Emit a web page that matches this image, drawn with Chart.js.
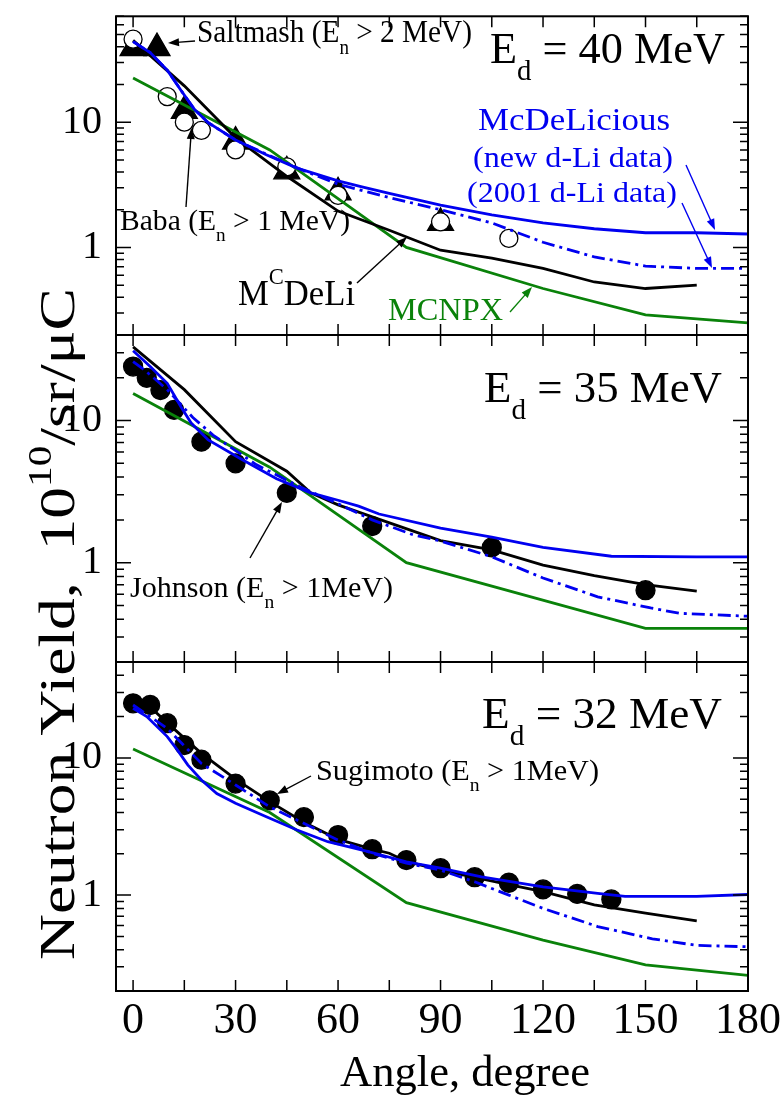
<!DOCTYPE html>
<html lang="en">
<head>
<meta charset="UTF-8">
<title>Neutron yield vs angle</title>
<style>
  body { margin: 0; background: #fff; }
  #wrap { position: relative; width: 784px; height: 1102px; }
  #wrap canvas { position: absolute; left: 0; top: 0; }
</style>
<script src="https://cdn.jsdelivr.net/npm/chart.js"></script>
</head>
<body>
<div id="wrap">
  <canvas id="p40" width="784" height="1102"></canvas>
  <canvas id="p35" width="784" height="1102"></canvas>
  <canvas id="p32" width="784" height="1102"></canvas>
</div>
<script>
// axis ticks
const angleTicks = [0, 30, 60, 90, 120, 150, 180];
const yieldTicks = [1, 10];

// Ed = 40 MeV
const deli40Angle = [0, 15, 30, 45, 60, 75, 90, 105, 120, 135, 150, 165];
const deli40Yield = [45, 19.5, 7.5, 3.7, 1.95, 1.37, 0.95, 0.82, 0.68, 0.53, 0.47, 0.5];
const newLi40Angle = [0, 5, 10, 14, 18, 22, 30, 39, 48, 60, 67, 75, 90, 105, 120, 135, 150, 165, 180];
const newLi40Yield = [44, 36, 26, 18, 12.6, 9.9, 7.2, 5.5, 4.3, 3.4, 3.05, 2.7, 2.18, 1.82, 1.57, 1.41, 1.31, 1.31, 1.28];
const oldLi40Angle = [0, 5, 10, 14, 18, 22, 30, 40, 50, 60, 75, 90, 105, 120, 135, 150, 165, 180];
const oldLi40Yield = [44, 36, 26, 18, 12.6, 9.9, 7.2, 5.4, 4.1, 3.2, 2.5, 2.0, 1.57, 1.1, 0.84, 0.71, 0.68, 0.68];
const mcnpx40Angle = [0, 40, 80, 120, 150, 180];
const mcnpx40Yield = [22.5, 6.0, 1.0, 0.47, 0.29, 0.25];
const saltmashAngle = [0, 7, 15, 30, 45, 60, 90];
const saltmashYield = [39, 39, 12.3, 7.0, 4.05, 2.75, 1.57];
const babaAngle = [0, 10, 15, 20, 30, 45, 60, 90, 110];
const babaYield = [46, 16, 10, 8.6, 6.0, 4.4, 2.6, 1.6, 1.18];

// Ed = 35 MeV
const deli35Angle = [0, 15, 30, 45, 52, 60, 70, 90, 105, 120, 135, 150, 165];
const deli35Yield = [33, 16.5, 7.1, 4.4, 3.1, 2.55, 2.1, 1.43, 1.23, 0.96, 0.81, 0.7, 0.63];
const newLi35Angle = [0, 5, 10, 14, 17, 22, 32, 42, 52, 60, 66, 72, 90, 105, 120, 140, 165, 180];
const newLi35Yield = [31, 24, 18.3, 12.5, 9.6, 7.3, 5.3, 3.9, 3.1, 2.75, 2.5, 2.2, 1.75, 1.51, 1.28, 1.11, 1.1, 1.1];
const oldLi35Angle = [0, 3, 6, 10, 17.5, 23.4, 36, 49, 60, 70, 82, 90, 105, 120, 136, 151.5, 160, 180];
const oldLi35Yield = [26, 23, 20, 16.5, 10.5, 7.9, 4.9, 3.4, 2.6, 2.0, 1.57, 1.42, 1.1, 0.78, 0.575, 0.48, 0.44, 0.42];
const mcnpx35Angle = [0, 40, 80, 150, 180];
const mcnpx35Yield = [15.5, 4.7, 1.0, 0.345, 0.345];
const johnsonAngle = [0, 4, 8, 12, 20, 30, 45, 70, 105, 150];
const johnsonYield = [24, 20, 16.4, 11.9, 7.1, 5.0, 3.1, 1.81, 1.28, 0.64];

// Ed = 32 MeV
const deli32Angle = [0, 5, 10, 20, 30, 40, 50, 60, 70, 75, 80, 90, 110, 120, 135, 150, 165];
const deli32Yield = [25.7, 23.5, 18, 10.8, 7.0, 4.8, 3.4, 2.55, 2.16, 2.02, 1.76, 1.52, 1.19, 1.06, 0.85, 0.74, 0.65];
const newLi32Angle = [0, 4, 10, 13, 16, 20, 24.5, 30, 39, 48, 57, 68, 80, 90, 102, 120, 136, 144, 165, 180];
const newLi32Yield = [23, 20, 14.3, 11.4, 8.9, 6.9, 5.5, 4.67, 3.73, 2.98, 2.45, 2.1, 1.75, 1.57, 1.36, 1.15, 1.03, 0.98, 0.98, 1.01];
const oldLi32Angle = [0, 10, 20, 30, 40, 52, 60, 70, 80, 90, 100, 110, 120, 136, 152, 165, 180];
const oldLi32Yield = [24.3, 16.4, 9.1, 6.35, 4.4, 3.15, 2.52, 2.02, 1.71, 1.52, 1.25, 1.0, 0.8, 0.59, 0.48, 0.43, 0.42];
const mcnpx32Angle = [0, 40, 80, 120, 150, 180];
const mcnpx32Yield = [11.6, 4.0, 0.88, 0.47, 0.31, 0.26];
const sugimotoAngle = [0, 5, 10, 15, 20, 30, 40, 50, 60, 70, 80, 90, 100, 110, 120, 130, 140];
const sugimotoYield = [25, 24.3, 17.9, 12.4, 9.7, 6.5, 4.9, 3.7, 2.74, 2.16, 1.8, 1.57, 1.35, 1.23, 1.1, 1.02, 0.93];

const SERIF = "'Liberation Serif', 'Times New Roman', serif";
const BLUE = '#0000f0';
const GREEN = '#0a820a';
const DASHDOT = [13, 5, 3, 5];

function pts(xs, ys) {
  return xs.map((x, i) => ({ x: x, y: ys[i] }));
}

function curve(xs, ys, color, dash) {
  return {
    data: pts(xs, ys), showLine: true, borderColor: color, borderWidth: 2.8,
    borderDash: dash || [], pointRadius: 0, pointHoverRadius: 0, tension: 0, fill: false
  };
}

function marks(xs, ys, style, r, fill) {
  return {
    data: pts(xs, ys), showLine: false, pointStyle: style, pointRadius: r, pointHoverRadius: r,
    pointBackgroundColor: fill, pointBorderColor: '#000', pointBorderWidth: 1.3
  };
}

// text with sub/superscripts; optional width squeezes/stretches along the text
function rich(ctx, parts, x, y, size, opts) {
  opts = opts || {};
  ctx.save();
  ctx.fillStyle = opts.color || '#000';
  ctx.textBaseline = 'alphabetic';
  ctx.textAlign = 'left';
  const pieces = parts.map(p => {
    const kind = p[1] || '';
    const s = kind ? size * 0.65 : size;
    ctx.font = s + 'px ' + SERIF;
    const dy = kind === 'sub' ? size * 0.38 : kind === 'sup' ? -size * (opts.supRaise || 0.6) : 0;
    return { t: p[0], s: s, w: ctx.measureText(p[0]).width, dy: dy };
  });
  const total = pieces.reduce((a, p) => a + p.w, 0);
  const sx = opts.width ? opts.width / total : 1;
  ctx.translate(x, y);
  if (opts.rotate) ctx.rotate(opts.rotate);
  ctx.scale(sx, opts.sy || 1);
  let cx = opts.align === 'center' ? -total / 2 : 0;
  pieces.forEach(p => {
    ctx.font = p.s + 'px ' + SERIF;
    ctx.fillText(p.t, cx, p.dy);
    cx += p.w;
  });
  ctx.restore();
}

function arrow(ctx, x1, y1, x2, y2, color) {
  const ang = Math.atan2(y2 - y1, x2 - x1);
  const h = 11, w = 4;
  ctx.save();
  ctx.strokeStyle = color;
  ctx.fillStyle = color;
  ctx.lineWidth = 1.4;
  ctx.beginPath();
  ctx.moveTo(x1, y1);
  ctx.lineTo(x2 - h * 0.8 * Math.cos(ang), y2 - h * 0.8 * Math.sin(ang));
  ctx.stroke();
  ctx.translate(x2, y2);
  ctx.rotate(ang);
  ctx.beginPath();
  ctx.moveTo(0, 0);
  ctx.lineTo(-h, -w);
  ctx.lineTo(-h, w);
  ctx.closePath();
  ctx.fill();
  ctx.restore();
}

// frame, inward ticks and the panel's notes
function framePlugin(notes) {
  return {
    id: 'frame',
    afterDraw(chart) {
      const ctx = chart.ctx, a = chart.chartArea;
      const xs = chart.scales.x, ys = chart.scales.y;
      ctx.save();
      ctx.strokeStyle = '#000';
      ctx.lineWidth = 1.5;
      ctx.beginPath();
      for (let v = 0; v <= 180; v += 15) {
        const px = xs.getPixelForValue(v);
        ctx.moveTo(px, a.bottom); ctx.lineTo(px, a.bottom - 11);
        ctx.moveTo(px, a.top); ctx.lineTo(px, a.top + 11);
      }
      [0.1, 1, 10].forEach(d => {
        for (let k = 1; k <= 9; k++) {
          const v = d * k;
          if (v < ys.min * 0.999 || v > ys.max * 1.001) continue;
          const py = ys.getPixelForValue(v);
          const len = k === 1 ? 15 : 8;
          ctx.moveTo(a.left, py); ctx.lineTo(a.left + len, py);
          ctx.moveTo(a.right, py); ctx.lineTo(a.right - len, py);
        }
      });
      ctx.stroke();
      ctx.lineWidth = 2;
      ctx.strokeRect(a.left, a.top, a.right - a.left, a.bottom - a.top);
      ctx.restore();
      if (notes) notes(ctx);
    }
  };
}

function panel(id, yMin, yMax, padTop, padBottom, withX, datasets, notes) {
  return new Chart(document.getElementById(id), {
    type: 'scatter',
    data: { datasets: datasets },
    options: {
      responsive: false,
      animation: false,
      devicePixelRatio: 1,
      layout: { padding: { left: 0, right: 36, top: padTop, bottom: padBottom } },
      plugins: { legend: { display: false }, tooltip: { enabled: false } },
      scales: {
        x: {
          type: 'linear', min: -5, max: 180, display: withX,
          grid: { display: false, drawTicks: false }, border: { display: false },
          afterBuildTicks: s => { s.ticks = angleTicks.map(v => ({ value: v })); },
          afterFit: s => { if (withX) s.height = 111; s.paddingLeft = 0; s.paddingRight = 0; },
          ticks: { font: { family: SERIF, size: 44 }, color: '#000', padding: 4, maxRotation: 0, autoSkip: false }
        },
        y: {
          type: 'logarithmic', min: yMin, max: yMax,
          grid: { display: false, drawTicks: false }, border: { display: false },
          afterBuildTicks: s => { s.ticks = yieldTicks.map(v => ({ value: v })); },
          afterFit: s => { s.width = 116; s.paddingTop = 0; s.paddingBottom = 0; },
          ticks: { font: { family: SERIF, size: 40 }, color: '#000', padding: 14, autoSkip: false, callback: v => String(v) }
        }
      }
    },
    plugins: [framePlugin(notes)]
  });
}

panel('p40', 0.2, 70, 8, 767, false, [
  curve(newLi40Angle, newLi40Yield, BLUE),
  curve(oldLi40Angle, oldLi40Yield, BLUE, DASHDOT),
  curve(deli40Angle, deli40Yield, '#000'),
  curve(mcnpx40Angle, mcnpx40Yield, GREEN),
  marks(babaAngle, babaYield, 'circle', 9, '#fff'),
  marks(saltmashAngle, saltmashYield, 'triangle', 15, '#000')
], ctx => {
  rich(ctx, [['Saltmash (E'], ['n', 'sub'], [' > 2 MeV)']], 197, 42, 31, { width: 275 });
  arrow(ctx, 195, 41, 168, 43, '#000');
  rich(ctx, [['E'], ['d', 'sub'], [' = 40 MeV']], 490, 63, 44, { width: 235 });
  rich(ctx, [['McDeLicious']], 574, 130, 31, { align: 'center', width: 192, color: BLUE });
  rich(ctx, [['(new d-Li data)']], 573, 167, 30, { align: 'center', width: 200, color: BLUE });
  rich(ctx, [['(2001 d-Li data)']], 572, 202, 30, { align: 'center', width: 210, color: BLUE });
  arrow(ctx, 686, 165, 715, 230, BLUE);
  arrow(ctx, 682, 203, 712, 268, BLUE);
  rich(ctx, [['Baba (E'], ['n', 'sub'], [' > 1 MeV)']], 120, 230, 29, { width: 230 });
  arrow(ctx, 186, 207, 191.5, 128, '#000');
  rich(ctx, [['M'], ['C', 'sup'], ['DeLi']], 238, 305, 35, { width: 117 });
  arrow(ctx, 357, 283, 407, 237, '#000');
  rich(ctx, [['MCNPX']], 388, 320, 31, { width: 115, color: GREEN });
  arrow(ctx, 510, 312, 532, 287, GREEN);
});

panel('p35', 0.2, 40, 335, 440, false, [
  curve(newLi35Angle, newLi35Yield, BLUE),
  curve(oldLi35Angle, oldLi35Yield, BLUE, DASHDOT),
  curve(deli35Angle, deli35Yield, '#000'),
  curve(mcnpx35Angle, mcnpx35Yield, GREEN),
  marks(johnsonAngle, johnsonYield, 'circle', 9.5, '#000')
], ctx => {
  rich(ctx, [['E'], ['d', 'sub'], [' = 35 MeV']], 484, 402, 44, { width: 238 });
  rich(ctx, [['Johnson (E'], ['n', 'sub'], [' > 1MeV)']], 130, 597, 30, { width: 263 });
  arrow(ctx, 250, 558, 282, 502, '#000');
});

panel('p32', 0.2, 50, 662, 0, true, [
  curve(newLi32Angle, newLi32Yield, BLUE),
  curve(oldLi32Angle, oldLi32Yield, BLUE, DASHDOT),
  curve(deli32Angle, deli32Yield, '#000'),
  curve(mcnpx32Angle, mcnpx32Yield, GREEN),
  marks(sugimotoAngle, sugimotoYield, 'circle', 9.5, '#000')
], ctx => {
  rich(ctx, [['E'], ['d', 'sub'], [' = 32 MeV']], 482, 728, 44, { width: 240 });
  rich(ctx, [['Sugimoto (E'], ['n', 'sub'], [' > 1MeV)']], 316, 780, 30, { width: 283 });
  arrow(ctx, 311, 776, 277, 794, '#000');
  rich(ctx, [['Angle, degree']], 465, 1086, 44, { align: 'center', width: 250 });
  rich(ctx, [['Neutron Yield,  10'], ['10', 'sup'], ['/sr/\u03bcC']], 74, 624, 54,
    { align: 'center', width: 672, rotate: -Math.PI / 2, sy: 0.95, supRaise: 0.45 });
});
</script>
</body>
</html>
